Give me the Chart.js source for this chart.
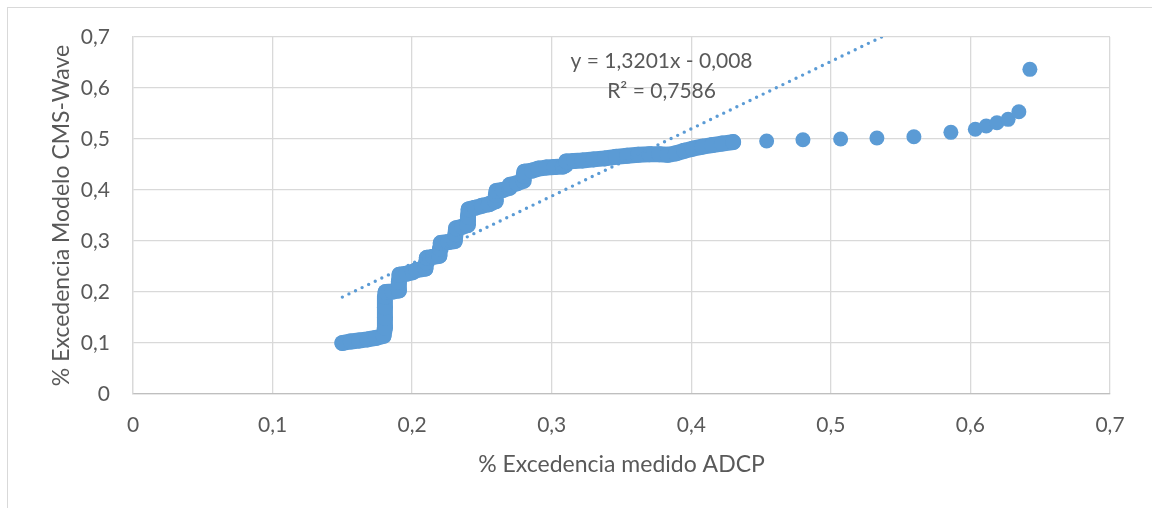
<!DOCTYPE html>
<html lang="es">
<head>
<meta charset="utf-8">
<title>% Excedencia: modelo CMS-Wave frente a ADCP</title>
<script src="https://cdn.jsdelivr.net/npm/chart.js@4.4.1/dist/chart.umd.min.js"></script>
<style>
  html, body { margin: 0; padding: 0; background: #fff; }
  #marco { position: absolute; left: 0; top: 0; width: 1152px; height: 508px; overflow: hidden; background: #fff; }
  #borde { position: absolute; left: 7px; top: 7px; width: 1200px; height: 600px;
           border-left: 1.5px solid #d9d9d9; border-top: 1.5px solid #d9d9d9; }
  canvas { position: absolute; left: 0; top: 0; }
</style>
</head>
<body>
<div id="marco">
  <div id="borde"></div>
  <canvas id="grafico" width="1152" height="508"></canvas>
</div>
<script>
// Tramo continuo de la curva: % excedencia medido (ADCP) vs. modelo CMS-Wave
const medidoCurva = [
  0.150, 0.156, 0.162, 0.168, 0.174, 0.1795, 0.1805, 0.1805, 0.1805, 0.1805,
  0.181, 0.186, 0.1905, 0.1905, 0.191, 0.196, 0.2005, 0.203, 0.2095, 0.210,
  0.2105, 0.215, 0.2195, 0.220, 0.2205, 0.226, 0.2305, 0.231, 0.2315, 0.236,
  0.2395, 0.240, 0.2405, 0.245, 0.250, 0.255, 0.2595, 0.260, 0.2605, 0.265,
  0.2695, 0.270, 0.275, 0.2795, 0.280, 0.2805, 0.286, 0.2905, 0.296, 0.302,
  0.308, 0.310, 0.3105, 0.316, 0.322, 0.330, 0.338, 0.346, 0.354, 0.362,
  0.370, 0.377, 0.383, 0.389, 0.395, 0.401, 0.408, 0.415, 0.422, 0.430
];
const modeloCurva = [
  0.100, 0.103, 0.105, 0.107, 0.110, 0.114, 0.130, 0.150, 0.170, 0.190,
  0.200, 0.201, 0.203, 0.220, 0.234, 0.236, 0.239, 0.243, 0.246, 0.258,
  0.267, 0.269, 0.271, 0.285, 0.296, 0.298, 0.300, 0.313, 0.325, 0.328,
  0.331, 0.348, 0.362, 0.365, 0.369, 0.372, 0.378, 0.390, 0.398, 0.400,
  0.404, 0.410, 0.413, 0.418, 0.428, 0.436, 0.438, 0.442, 0.444, 0.445,
  0.446, 0.449, 0.456, 0.457, 0.458, 0.460, 0.462, 0.465, 0.467, 0.469,
  0.470, 0.470, 0.469, 0.472, 0.477, 0.481, 0.485, 0.488, 0.491, 0.494
];

// Puntos aislados del extremo superior
const medidoCola = [0.454, 0.480, 0.507, 0.533, 0.5595, 0.586, 0.6035, 0.6113, 0.619, 0.627, 0.6347, 0.6426];
const modeloCola = [0.496, 0.4985, 0.500, 0.502, 0.5045, 0.513, 0.519, 0.5255, 0.532, 0.5385, 0.5535, 0.6366];

// Línea de tendencia lineal y su ajuste
const pendiente = 1.3201;
const ordenada = -0.008;
const r2 = 0.7586;

// Rótulos de los ejes
const etiquetasX = ['0', '0,1', '0,2', '0,3', '0,4', '0,5', '0,6', '0,7'];
const etiquetasY = ['0', '0,1', '0,2', '0,3', '0,4', '0,5', '0,6', '0,7'];
const tituloX = '% Excedencia medido ADCP';
const tituloY = '% Excedencia Modelo CMS-Wave';
const textoEcuacion = 'y = 1,3201x - 0,008';
const textoR2 = 'R² = 0,7586';

const AZUL = '#5B9BD5';
const GRIS_TEXTO = '#595959';
const FUENTE = 'Lato, "Open Sans", sans-serif';

const aPuntos = (xs, ys) => xs.map((x, i) => ({ x, y: ys[i] }));
const curva = aPuntos(medidoCurva, modeloCurva);
const cola = aPuntos(medidoCola, modeloCola);

const todosX = medidoCurva.concat(medidoCola);
const xMin = Math.min(...todosX);
const xMax = Math.max(...todosX);
const tendencia = [
  { x: xMin, y: pendiente * xMin + ordenada },
  { x: xMax, y: pendiente * xMax + ordenada }
];

// Rótulo de la ecuación, anclado en coordenadas de datos
const rotuloEcuacion = {
  id: 'rotuloEcuacion',
  afterDatasetsDraw(chart) {
    const { ctx, scales: { x, y } } = chart;
    ctx.save();
    ctx.fillStyle = GRIS_TEXTO;
    ctx.font = '21px ' + FUENTE;
    ctx.textAlign = 'center';
    ctx.textBaseline = 'middle';
    const cx = x.getPixelForValue(0.3787);
    ctx.fillText(textoEcuacion, cx, y.getPixelForValue(0.6516));
    ctx.fillText(textoR2, cx, y.getPixelForValue(0.5927));
    ctx.restore();
  }
};

const fuenteTicks = { family: FUENTE, size: 21 };
const fuenteTitulo = { family: FUENTE, size: 23 };

new Chart(document.getElementById('grafico'), {
  type: 'scatter',
  data: {
    datasets: [
      {
        label: 'Lineal',
        data: tendencia,
        showLine: true,
        borderColor: AZUL,
        borderWidth: 3.4,
        borderDash: [0, 7.3],
        borderCapStyle: 'round',
        pointRadius: 0,
        order: 0
      },
      {
        label: 'Modelo vs ADCP',
        data: curva,
        showLine: true,
        borderColor: AZUL,
        borderWidth: 16,
        borderJoinStyle: 'round',
        borderCapStyle: 'round',
        backgroundColor: AZUL,
        pointRadius: 8,
        pointBorderWidth: 0,
        order: 1
      },
      {
        label: 'Modelo vs ADCP (extremo)',
        data: cola,
        backgroundColor: AZUL,
        pointRadius: 7.5,
        pointBorderWidth: 0,
        order: 1
      }
    ]
  },
  options: {
    responsive: false,
    animation: false,
    events: [],
    layout: { padding: { left: 0, top: 37, right: 42, bottom: 0 } },
    plugins: { legend: { display: false }, tooltip: { enabled: false } },
    scales: {
      x: {
        type: 'linear',
        min: 0,
        max: 0.7,
        afterFit(s) { s.height = 114; },
        ticks: {
          stepSize: 0.1,
          padding: 19,
          color: GRIS_TEXTO,
          font: fuenteTicks,
          callback: v => etiquetasX[Math.round(v * 10)]
        },
        grid: { color: '#d9d9d9', lineWidth: 1.3, drawTicks: false },
        border: { color: '#bfbfbf', width: 1.3 },
        title: { display: true, text: tituloX, color: GRIS_TEXTO, font: fuenteTitulo, padding: { top: 0, bottom: 30 } }
      },
      y: {
        type: 'linear',
        min: 0,
        max: 0.7,
        afterFit(s) { s.width = 133; },
        ticks: {
          stepSize: 0.1,
          padding: 23,
          color: GRIS_TEXTO,
          font: fuenteTicks,
          callback: v => etiquetasY[Math.round(v * 10)]
        },
        grid: { color: '#d9d9d9', lineWidth: 1.3, drawTicks: false },
        border: { color: '#d9d9d9', width: 1.3 },
        title: { display: true, text: tituloY, color: GRIS_TEXTO, font: fuenteTitulo, padding: { top: 48, bottom: 0 } }
      }
    }
  },
  plugins: [rotuloEcuacion]
});
</script>
</body>
</html>
